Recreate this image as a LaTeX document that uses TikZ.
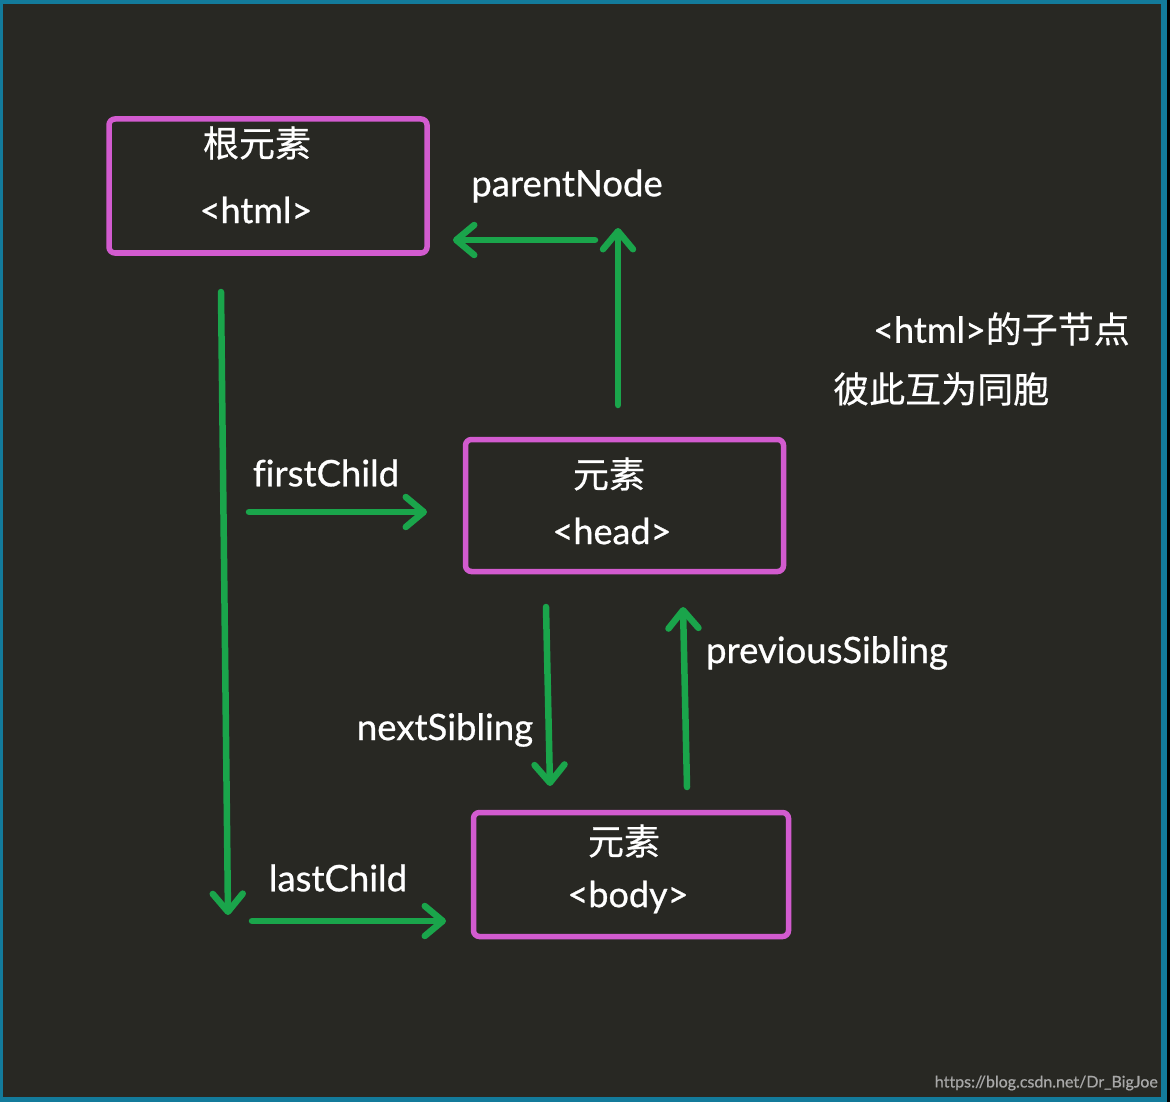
\documentclass[tikz,border=0pt]{standalone}
\usepackage{fontspec}
\usepackage{tikz}
\usepackage{xcolor}
\usetikzlibrary{positioning, arrows.meta}
\setmainfont{Lato}[FakeBold=0.7, Ligatures=CommonOff]
\newfontfamily\cjk{Noto Sans CJK SC}[FakeBold=0.5]
\definecolor{frameBlue}{HTML}{137B9B}
\definecolor{bgDark}{HTML}{282823}
\definecolor{boxPink}{HTML}{D25BCF}
\definecolor{linkGreen}{HTML}{1AA54B}
\definecolor{markGray}{HTML}{A8A8A8}

\begin{document}
\begin{tikzpicture}[
  x=1pt, y=-1pt,
  elbox/.style={draw=boxPink, line width=5.5pt, rounded corners=6pt,
                inner sep=0pt},
  boxtext/.style={text=white, inner sep=0pt, font=\fontsize{36}{42}\selectfont},
  linktext/.style={text=white, inner sep=0pt, font=\fontsize{36.5}{42}\selectfont},
  link/.style={draw=linkGreen, line width=6.5pt, line cap=round,
               -{Straight Barb[round, length=18pt, width=30pt]}},
]
  % Frame and background
  \fill[frameBlue] (0,0) rectangle (1170,1102);
  \fill[black] (1167,0) rectangle (1170,1102);
  \fill[bgDark] (3,4) rectangle (1161,1097);
  \useasboundingbox (0,0) rectangle (1170,1102);

  % Element boxes
  \node[elbox, minimum width=318pt, minimum height=134pt] (html) at (268,186) {};
  \node[elbox, minimum width=318pt, minimum height=132pt] (head) at (624.5,505.5) {};
  \node[elbox, minimum width=315pt, minimum height=124pt] (body) at (631,874.5) {};

  \node[boxtext] (htmlcn) at (257,143) {\cjk 根元素};
  \node[boxtext] (htmltag) at (256,210) {<html>};
  \node[boxtext] (headcn) at (609,474) {\cjk 元素};
  \node[boxtext] (headtag) at (612,531) {<head>};
  \node[boxtext] (bodycn) at (624,841) {\cjk 元素};
  \node[boxtext] (bodytag) at (628,897) {<body>};

  % Labels
  \node[linktext] (parentlbl) at (567,186) {parentNode};
  \node[linktext] (firstlbl) at (326,473) {firstChild};
  \node[linktext] (lastlbl) at (338,878) {lastChild};
  \node[linktext] (nextlbl) at (445,730) {nextSibling};
  \node[linktext] (prevlbl) at (827,653) {previousSibling};
  \node[boxtext, anchor=west] (childnote) at (873,329) {<html>{\cjk 的子节点}};
  \node[boxtext, anchor=west] (siblingnote) at (833,389) {\cjk 彼此互为同胞};

  % Connector ends
  \coordinate (pnA) at (595,240);  \coordinate (pnB) at (453,240);
  \coordinate (upA) at (618,405);  \coordinate (upB) at (618,228);
  \coordinate (lcA) at (221,292);  \coordinate (lcB) at (228,915);
  \coordinate (fcA) at (249,512);  \coordinate (fcB) at (427,512);
  \coordinate (laA) at (252,921);  \coordinate (laB) at (446,921);
  \coordinate (nsA) at (546,607);  \coordinate (nsB) at (550,786);
  \coordinate (psA) at (687,787);  \coordinate (psB) at (683,607);

  % Arrows
  \draw[link] (pnA) -- (pnB);
  \draw[link] (upA) -- (upB);
  \draw[link] (lcA) -- (lcB);
  \draw[link] (fcA) -- (fcB);
  \draw[link] (laA) -- (laB);
  \draw[link] (nsA) -- (nsB);
  \draw[link] (psA) -- (psB);

  % Watermark
  \node[text=markGray, anchor=east, inner sep=0pt,
        font=\fontsize{16}{18}\selectfont] (mark) at (1158,1083)
        {https://blog.csdn.net/Dr\_BigJoe};
\end{tikzpicture}
\end{document}
